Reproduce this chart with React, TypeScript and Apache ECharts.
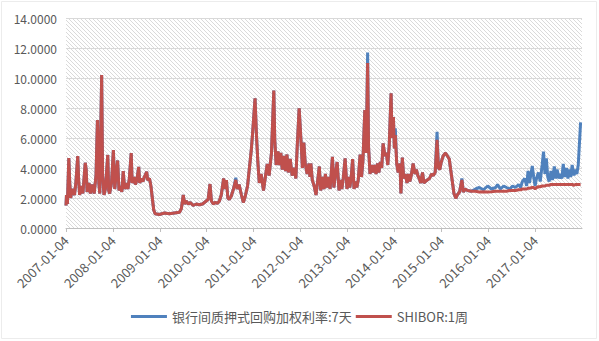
import React, { useEffect, useRef } from "react";
import * as echarts from "echarts";

// time in decimal years (2007.00 = 2007-01-04)
const timeYears = [
  2007.00, 2007.01, 2007.03, 2007.06, 2007.08, 2007.10, 2007.13, 2007.18, 2007.21, 2007.25,
  2007.27, 2007.29, 2007.33, 2007.36, 2007.41, 2007.43, 2007.45, 2007.49, 2007.52, 2007.56,
  2007.60, 2007.64, 2007.67, 2007.70, 2007.72, 2007.76, 2007.78, 2007.81, 2007.84, 2007.89,
  2007.91, 2007.93, 2007.97, 2008.01, 2008.04, 2008.06, 2008.10, 2008.13, 2008.16, 2008.19,
  2008.22, 2008.25, 2008.29, 2008.32, 2008.35, 2008.39, 2008.41, 2008.45, 2008.48, 2008.51,
  2008.55, 2008.57, 2008.61, 2008.64, 2008.67, 2008.72, 2008.74, 2008.78, 2008.81, 2008.84,
  2008.87, 2008.90, 2008.99, 2009.10, 2009.20, 2009.31, 2009.42, 2009.46, 2009.50, 2009.53,
  2009.56, 2009.61, 2009.65, 2009.71, 2009.78, 2009.84, 2009.91, 2009.95, 2009.99, 2010.03,
  2010.07, 2010.10, 2010.14, 2010.18, 2010.23, 2010.27, 2010.31, 2010.36, 2010.39, 2010.42,
  2010.45, 2010.48, 2010.52, 2010.57, 2010.62, 2010.65, 2010.69, 2010.74, 2010.78, 2010.82,
  2010.87, 2010.91, 2010.95, 2010.98, 2011.03, 2011.06, 2011.09, 2011.12, 2011.16, 2011.21,
  2011.25, 2011.29, 2011.33, 2011.38, 2011.43, 2011.45, 2011.48, 2011.52, 2011.55, 2011.58,
  2011.61, 2011.64, 2011.68, 2011.71, 2011.74, 2011.78, 2011.82, 2011.87, 2011.90, 2011.93,
  2011.97, 2012.01, 2012.04, 2012.07, 2012.10, 2012.14, 2012.18, 2012.20, 2012.22, 2012.25,
  2012.29, 2012.33, 2012.36, 2012.40, 2012.43, 2012.46, 2012.50, 2012.53, 2012.56, 2012.59,
  2012.63, 2012.68, 2012.71, 2012.74, 2012.78, 2012.82, 2012.85, 2012.88, 2012.91, 2012.95,
  2012.99, 2013.02, 2013.05, 2013.08, 2013.11, 2013.14, 2013.17, 2013.20, 2013.23, 2013.27,
  2013.30, 2013.33, 2013.37, 2013.40, 2013.43, 2013.45, 2013.48, 2013.51, 2013.54, 2013.57,
  2013.61, 2013.64, 2013.67, 2013.70, 2013.73, 2013.76, 2013.80, 2013.83, 2013.86, 2013.89,
  2013.93, 2013.95, 2013.98, 2014.00, 2014.02, 2014.05, 2014.08, 2014.12, 2014.14, 2014.17,
  2014.20, 2014.23, 2014.27, 2014.30, 2014.33, 2014.36, 2014.40, 2014.44, 2014.47, 2014.50,
  2014.53, 2014.56, 2014.60, 2014.63, 2014.66, 2014.70, 2014.75, 2014.79, 2014.83, 2014.87,
  2014.91, 2014.94, 2014.97, 2015.00, 2015.04, 2015.09, 2015.13, 2015.17, 2015.20, 2015.24,
  2015.27, 2015.31, 2015.34, 2015.39, 2015.44, 2015.47, 2015.51, 2015.56, 2015.64, 2015.73,
  2015.81, 2015.90, 2015.99, 2016.07, 2016.16, 2016.20, 2016.26, 2016.33, 2016.39, 2016.46,
  2016.52, 2016.58, 2016.65, 2016.69, 2016.73, 2016.78, 2016.82, 2016.85, 2016.88, 2016.94,
  2016.97, 2017.00, 2017.03, 2017.07, 2017.11, 2017.15, 2017.18, 2017.21, 2017.24, 2017.27,
  2017.30, 2017.34, 2017.37, 2017.41, 2017.44, 2017.47, 2017.51, 2017.54, 2017.57, 2017.60,
  2017.63, 2017.67, 2017.70, 2017.73, 2017.76, 2017.79, 2017.83, 2017.86, 2017.89, 2017.92,
  2017.97,
];

// SHIBOR 1 week
const shibor1w = [
  1.5, 2.2, 1.6, 4.67, 3.0, 2.0, 2.6, 2.2, 3.0, 4.8,
  3.2, 2.2, 2.8, 2.3, 4.35, 3.9, 2.4, 3.0, 2.3, 2.9,
  2.3, 3.5, 7.2, 3.0, 2.3, 10.2, 3.5, 2.2, 2.6, 4.87,
  2.5, 2.3, 3.0, 5.2, 2.6, 3.3, 4.5, 2.5, 2.8, 2.4,
  3.8, 2.6, 3.0, 2.6, 3.3, 5.0, 3.0, 3.4, 2.9, 3.2,
  4.07, 3.0, 3.3, 3.1, 3.4, 3.75, 3.2, 3.3, 2.8, 2.0,
  1.2, 0.95, 0.9, 1.0, 0.95, 1.0, 1.05, 1.3, 2.2, 1.6,
  1.8, 1.6, 1.7, 1.5, 1.6, 1.55, 1.6, 1.7, 1.8, 1.9,
  2.93, 1.8, 1.6, 1.7, 1.65, 1.8, 2.2, 3.3, 2.6, 3.2,
  2.0, 1.9, 2.1, 2.6, 3.2, 2.6, 2.9, 2.2, 1.7, 2.1,
  2.8, 4.0, 5.2, 6.4, 8.64, 6.2, 4.4, 3.0, 3.6, 2.5,
  3.4, 4.27, 3.5, 5.0, 9.16, 5.9, 4.2, 5.1, 4.2, 5.0,
  3.9, 4.8, 3.8, 4.9, 3.7, 4.6, 3.5, 4.0, 3.3, 5.5,
  7.98, 5.8, 4.0, 5.7, 4.3, 3.6, 4.3, 3.4, 4.3, 3.2,
  2.8, 2.2, 3.0, 4.1, 2.5, 3.4, 2.6, 3.6, 2.7, 3.4,
  2.6, 4.75, 2.7, 3.5, 4.4, 2.5, 3.2, 2.6, 3.3, 4.64,
  2.6, 3.4, 2.7, 3.4, 4.6, 2.6, 3.1, 2.7, 3.2, 4.9,
  3.4, 4.5, 7.87, 5.0, 11.0, 5.4, 3.6, 4.2, 3.7, 4.2,
  3.6, 4.3, 3.7, 4.4, 4.0, 5.64, 4.8, 5.0, 4.2, 5.5,
  8.98, 6.0, 7.4, 5.3, 6.2, 4.3, 3.7, 4.3, 2.3, 4.7,
  3.3, 3.6, 3.0, 3.6, 3.1, 3.5, 4.3, 3.6, 3.9, 3.5,
  3.3, 3.0, 3.7, 3.0, 3.1, 3.2, 3.3, 3.6, 3.5, 3.7,
  5.87, 4.0, 3.9, 4.4, 4.8, 5.0, 4.8, 4.6, 3.9, 3.0,
  2.3, 1.98, 2.2, 2.4, 3.2, 2.4, 2.6, 2.5, 2.45, 2.45,
  2.4, 2.42, 2.4, 2.42, 2.45, 2.45, 2.45, 2.45, 2.45, 2.5,
  2.5, 2.5, 2.55, 2.55, 2.6, 2.6, 2.6, 2.65, 2.65, 2.7,
  2.7, 2.6, 2.7, 2.75, 2.75, 2.8, 2.8, 2.8, 2.85, 2.85,
  2.85, 2.9, 2.9, 2.9, 2.9, 2.9, 2.9, 2.9, 2.9, 2.9,
  2.9, 2.9, 2.9, 2.9, 2.9, 2.9, 2.85, 2.9, 2.9, 2.9,
  2.9,
];

// Interbank pledged repo weighted rate, 7 days
const repo7d = [
  1.5, 2.2, 1.6, 4.67, 3.0, 2.0, 2.6, 2.2, 3.0, 4.8,
  3.2, 2.2, 2.8, 2.3, 4.35, 3.9, 2.4, 3.0, 2.3, 2.9,
  2.3, 3.5, 7.2, 3.0, 2.3, 10.2, 3.5, 2.2, 2.6, 4.87,
  2.5, 2.3, 3.0, 5.2, 2.6, 3.3, 4.5, 2.5, 2.8, 2.4,
  3.8, 2.6, 3.0, 2.6, 3.3, 5.0, 3.0, 3.4, 2.9, 3.2,
  4.07, 3.0, 3.3, 3.1, 3.4, 3.75, 3.2, 3.3, 2.8, 2.0,
  1.2, 0.95, 0.9, 1.0, 0.95, 1.0, 1.05, 1.3, 2.2, 1.6,
  1.8, 1.6, 1.7, 1.5, 1.6, 1.55, 1.6, 1.7, 1.8, 1.9,
  2.93, 1.8, 1.6, 1.7, 1.65, 1.8, 2.2, 3.3, 2.6, 3.2,
  2.0, 1.9, 2.1, 2.6, 3.35, 2.6, 2.9, 2.2, 1.7, 2.1,
  2.8, 4.0, 5.2, 6.4, 8.64, 6.2, 4.4, 3.0, 3.6, 2.5,
  3.4, 4.27, 3.5, 5.0, 9.16, 5.9, 4.2, 5.1, 4.2, 5.0,
  3.9, 4.8, 3.8, 4.9, 3.7, 4.6, 3.5, 4.0, 3.3, 5.5,
  7.98, 5.8, 4.0, 5.7, 4.3, 3.6, 4.3, 3.4, 4.3, 3.2,
  2.8, 2.2, 3.0, 4.1, 2.5, 3.4, 2.6, 3.6, 2.7, 3.4,
  2.6, 4.75, 2.7, 3.5, 4.4, 2.5, 3.2, 2.6, 3.3, 4.64,
  2.6, 3.4, 2.7, 3.4, 4.6, 2.6, 3.1, 2.7, 3.2, 4.9,
  3.4, 4.5, 7.87, 5.0, 11.7, 5.4, 3.6, 4.2, 3.7, 4.2,
  3.6, 4.3, 3.7, 4.4, 4.0, 5.64, 4.8, 5.0, 4.2, 5.5,
  8.98, 6.0, 7.4, 5.3, 6.64, 4.3, 3.7, 4.3, 2.3, 4.7,
  3.3, 3.6, 3.0, 3.6, 3.1, 3.5, 4.3, 3.6, 3.9, 3.5,
  3.3, 3.0, 3.7, 3.0, 3.1, 3.2, 3.3, 3.6, 3.5, 3.7,
  6.42, 4.0, 3.9, 4.4, 4.8, 5.0, 4.8, 4.6, 3.9, 3.0,
  2.3, 1.98, 2.2, 2.4, 3.3, 2.4, 2.6, 2.5, 2.45, 2.6,
  2.7, 2.55, 2.8, 2.6, 2.7, 2.9, 2.6, 2.8, 2.7, 2.6,
  2.8, 2.7, 2.9, 2.7, 3.1, 3.3, 2.8, 3.8, 3.0, 4.13,
  3.4, 2.8, 3.3, 3.7, 3.1, 4.2, 5.09, 3.6, 4.65, 3.4,
  3.1, 3.8, 3.2, 4.1, 3.3, 3.9, 3.3, 3.6, 3.3, 4.27,
  3.4, 4.0, 3.3, 3.9, 3.4, 4.2, 3.5, 3.9, 3.6, 4.2,
  7.04,
];

const yTicks = [0, 2, 4, 6, 8, 10, 12, 14];
const seriesNames = ["银行间质押式回购加权利率:7天", "SHIBOR:1周"];

const W = 599;
const H = 341;
const GRID = { left: 66, right: 17, top: 18, bottom: 113 };
const FONT = '"Noto Sans CJK SC", "Noto Sans", sans-serif';
const TEXT = "#595959";

function buildHatch() {
  const x0 = GRID.left;
  const x1 = W - GRID.right;
  const y0 = GRID.top;
  const y1 = H - GRID.bottom;
  const els: any[] = [];
  for (let k = x0 - y1; k <= x1 - y0; k += 4) {
    const xa = Math.max(x0, y0 + k);
    const xb = Math.min(x1, y1 + k);
    if (xb - xa < 0.5) continue;
    els.push({
      type: "line",
      silent: true,
      z: -5,
      shape: { x1: xa, y1: xa - k, x2: xb, y2: xb - k },
      style: { stroke: "#dadada", lineWidth: 1 },
    });
  }
  return els;
}

export default function App() {
  const ref = useRef<HTMLDivElement>(null);
  useEffect(() => {
    if (!ref.current) return;
    const chart = echarts.init(ref.current, null, { renderer: "svg" });
    const red = timeYears.map((t, i) => [t, shibor1w[i]]);
    const blue = timeYears.map((t, i) => [t, repo7d[i]]);
    chart.setOption({
      animation: false,
      backgroundColor: "#ffffff",
      textStyle: { fontFamily: FONT },
      grid: { ...GRID, containLabel: false },
      graphic: [
        {
          type: "rect",
          silent: true,
          z: -10,
          shape: { x: 1.5, y: 1.5, width: 595, height: 337 },
          style: { fill: "none", stroke: "#ececec", lineWidth: 1 },
        },
        ...buildHatch(),
      ],
      legend: {
        left: "center",
        top: 305,
        itemGap: 4,
        itemWidth: 36,
        itemHeight: 3,
        icon: "rect",
        textStyle: { color: TEXT, fontSize: 13, fontFamily: FONT },
        data: seriesNames,
      },
      xAxis: {
        type: "value",
        min: 2007,
        max: 2018,
        interval: 1,
        splitLine: { show: false },
        axisLine: { show: true, lineStyle: { color: "#bfbfbf", width: 1 } },
        axisTick: { show: true, length: 4, lineStyle: { color: "#bfbfbf" } },
        axisLabel: {
          rotate: 45,
          margin: 10,
          color: TEXT,
          fontSize: 13,
          fontFamily: FONT,
          showMaxLabel: false,
          formatter: (v: number) =>
            Number.isInteger(v) && v < 2018 ? `${v}-01-04` : "",
        },
      },
      yAxis: {
        type: "value",
        min: yTicks[0],
        max: yTicks[yTicks.length - 1],
        interval: 2,
        axisLine: { show: false },
        axisTick: { show: false },
        splitLine: { show: true, lineStyle: { color: "#d9d9d9", width: 1 } },
        axisLabel: {
          margin: 9,
          color: TEXT,
          fontSize: 12,
          fontFamily: FONT,
          formatter: (v: number) => v.toFixed(4),
        },
      },
      series: [
        {
          name: seriesNames[0],
          type: "line",
          data: blue,
          showSymbol: false,
          symbol: "none",
          z: 3,
          lineStyle: { color: "#4F81BD", width: 3 },
          itemStyle: { color: "#4F81BD" },
        },
        {
          name: seriesNames[1],
          type: "line",
          data: red,
          showSymbol: false,
          symbol: "none",
          z: 4,
          lineStyle: { color: "#C0504D", width: 3 },
          itemStyle: { color: "#C0504D" },
        },
      ],
    });
    return () => chart.dispose();
  }, []);
  return (
    <div
      ref={ref}
      style={{ position: "fixed", left: 0, top: 0, width: W, height: H }}
    />
  );
}
